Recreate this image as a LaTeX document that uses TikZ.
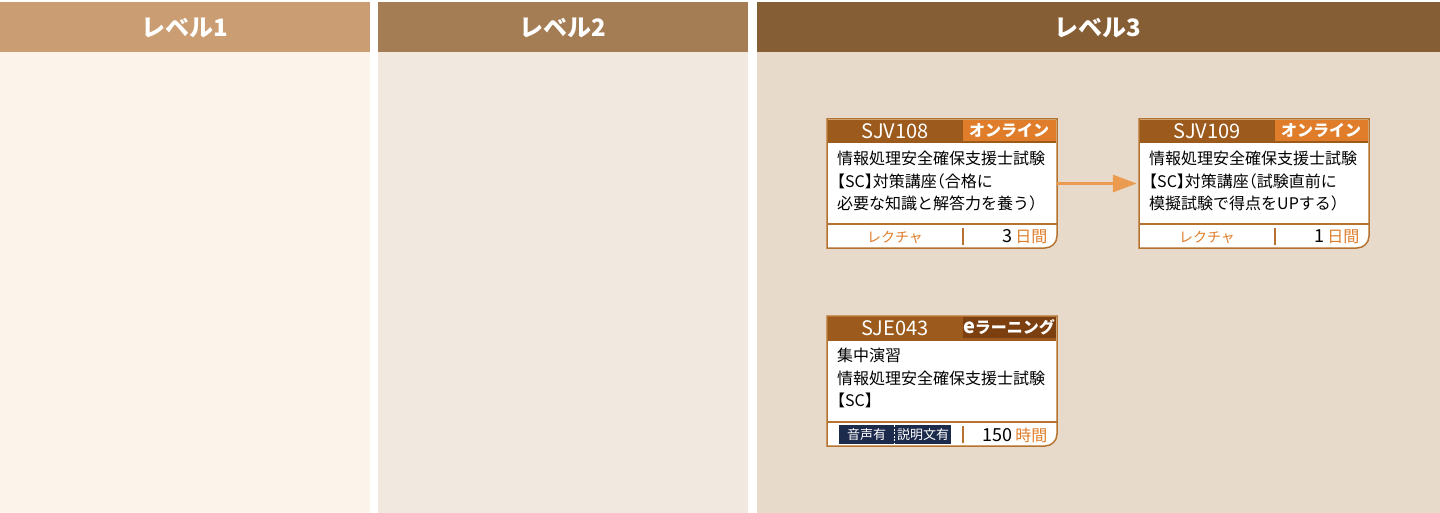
\documentclass[tikz,border=0pt]{standalone}
\usepackage{fontspec}
\setmainfont{Noto Sans CJK JP}
\usetikzlibrary{arrows.meta}

\definecolor{colAhead}{HTML}{CA9D72}
\definecolor{colBhead}{HTML}{A47D55}
\definecolor{colChead}{HTML}{855E35}
\definecolor{colAbody}{HTML}{FCF3EA}
\definecolor{colBbody}{HTML}{F1E8DF}
\definecolor{colCbody}{HTML}{E8DACA}
\definecolor{cardline}{HTML}{B5732F}
\definecolor{cardhead}{HTML}{9C5A1C}
\definecolor{onlinebadge}{HTML}{E07D2B}
\definecolor{elearnbadge}{HTML}{7B3F10}
\definecolor{navybadge}{HTML}{1C2A4C}
\definecolor{daysorange}{HTML}{E07D2B}
\definecolor{arrowcol}{HTML}{EB9B4F}

\newcommand{\halfbr}[1]{{\addfontfeatures{RawFeature=+halt}#1}}

\begin{document}
\begin{tikzpicture}[x=1pt,y=-1pt,
  levellabel/.style={text=white,font=\fontsize{24}{24}\selectfont\bfseries,anchor=center},
  codelabel/.style={text=white,font=\fontsize{20}{20}\selectfont,anchor=center},
  badgelabel/.style={text=white,font=\fontsize{16}{16}\selectfont\bfseries,anchor=center},
  bodytext/.style={anchor=north west,align=left,inner sep=0pt,font=\fontsize{16}{22.5}\selectfont},
  formlabel/.style={text=daysorange,font=\fontsize{14}{14}\selectfont,anchor=center},
  dayslabel/.style={anchor=east,font=\fontsize{18}{18}\selectfont},
  smallbadge/.style={text=white,font=\fontsize{13}{13}\selectfont,anchor=center},
  cardarea/.style={minimum width=230,minimum height=129,inner sep=0pt}]
\useasboundingbox (0,0) rectangle (1440,513);
% Columns
\fill[white] (0,0) rectangle (1440,513);
\fill[colAbody] (0,52) rectangle (370,513);
\fill[colBbody] (378,52) rectangle (748,513);
\fill[colCbody] (757,52) rectangle (1440,513);
\fill[colAhead] (0,2) rectangle (370,52);
\fill[colBhead] (378,2) rectangle (748,52);
\fill[colChead] (757,2) rectangle (1440,52);
\node[levellabel] (lv1) at (185,28) {レベル1};
\node[levellabel] (lv2) at (563,28) {レベル2};
\node[levellabel] (lv3) at (1098,28) {レベル3};
% Card areas
\node[cardarea] (sjv108) at (942,183.5) {};
\node[cardarea] (sjv109) at (1254,183.5) {};
\node[cardarea] (sje043) at (942,380.5) {};
% Card SJV108
\filldraw[cardline, fill=white, line width=1.5] (827,119) -- (1057,119) -- (1057,236) arc[start angle=0,end angle=90,radius=12] -- (827,248) -- cycle;
\fill[cardhead] (827.75,119.75) rectangle (1056.25,143);
\fill[onlinebadge] (963,120) rectangle (1055.5,141);
\draw[cardline, line width=1.5] (827,224) -- (1057,224);
\draw[cardline, line width=1.2] (963,228) -- (963,245);
\node[codelabel] (code108) at (895,131) {SJV108};
\node[badgelabel] (online108) at (1009,130.5) {オンライン};
\node[bodytext] (text108) at (837,151) {情報処理安全確保支援士試験\\\halfbr{【}SC\halfbr{】}対策講座\halfbr{（}合格に\\必要な知識と解答力を養う\halfbr{）}};
\node[formlabel] (form108) at (895,237) {レクチャ};
\node[dayslabel] (days108) at (1051,237) {3\,\textcolor{daysorange}{\fontsize{16}{16}\selectfont 日間}};
% Card SJV109
\filldraw[cardline, fill=white, line width=1.5] (1139,119) -- (1369,119) -- (1369,236) arc[start angle=0,end angle=90,radius=12] -- (1139,248) -- cycle;
\fill[cardhead] (1139.75,119.75) rectangle (1368.25,143);
\fill[onlinebadge] (1275,120) rectangle (1367.5,141);
\draw[cardline, line width=1.5] (1139,224) -- (1369,224);
\draw[cardline, line width=1.2] (1275,228) -- (1275,245);
\node[codelabel] (code109) at (1207,131) {SJV109};
\node[badgelabel] (online109) at (1321,130.5) {オンライン};
\node[bodytext] (text109) at (1149,151) {情報処理安全確保支援士試験\\\halfbr{【}SC\halfbr{】}対策講座\halfbr{（}試験直前に\\模擬試験で得点をUPする\halfbr{）}};
\node[formlabel] (form109) at (1207,237) {レクチャ};
\node[dayslabel] (days109) at (1363,237) {1\,\textcolor{daysorange}{\fontsize{16}{16}\selectfont 日間}};
% Card SJE043
\filldraw[cardline, fill=white, line width=1.5] (827,316) -- (1057,316) -- (1057,434) arc[start angle=0,end angle=90,radius=12] -- (827,446) -- cycle;
\fill[cardhead] (827.75,316.75) rectangle (1056.25,341);
\fill[elearnbadge] (963,317) rectangle (1055.5,338);
\draw[cardline, line width=1.5] (827,422) -- (1057,422);
\draw[cardline, line width=1.2] (963,426) -- (963,443);
\node[codelabel] (code043) at (895,328) {SJE043};
\node[badgelabel] (elearn043) at (1009,327.5) {{\fontsize{20}{20}\selectfont e}ラーニング};
\node[bodytext] (text043) at (837,348) {集中演習\\情報処理安全確保支援士試験\\\halfbr{【}SC\halfbr{】}};
\fill[navybadge] (839,424.5) rectangle (951,444);
\draw[white, line width=0.8, dash pattern=on 2pt off 1.5pt] (894.5,425) -- (894.5,443.5);
\node[smallbadge] (voice043) at (866.5,434.5) {音声有};
\node[smallbadge] (caption043) at (923,434.5) {説明文有};
\node[dayslabel] (hours043) at (1051,435) {150\,\textcolor{daysorange}{\fontsize{16}{16}\selectfont 時間}};
% Connector
\draw[arrowcol, line width=3, -{Triangle[length=24,width=17]}] (sjv108.east) -- ([xshift=-2]sjv109.west);
\end{tikzpicture}
\end{document}
